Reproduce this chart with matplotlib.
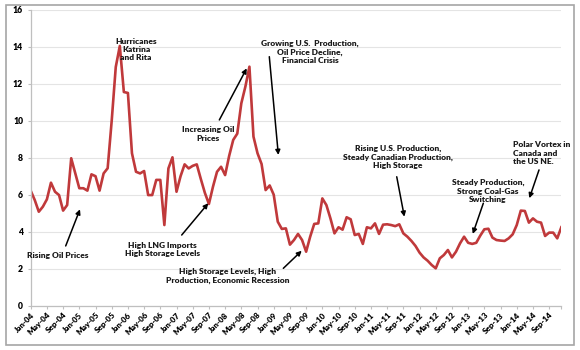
import numpy as np
import matplotlib
matplotlib.use('Agg')
import matplotlib.pyplot as plt
from matplotlib.patches import Rectangle

plt.rcParams['font.family'] = ['Lato', 'DejaVu Sans']

# monthly price, Jan-04 .. Dec-14
prices = [6.22, 5.71, 5.08, 5.35, 5.75, 6.65, 6.16, 5.98, 5.14, 5.44, 7.97, 7.15,
          6.35, 6.35, 6.22, 7.10, 7.00, 6.22, 7.15, 7.43, 10.0, 12.9, 14.04, 11.55,
          11.5, 8.24, 7.24, 7.15, 7.28, 5.98, 5.98, 6.80, 6.80, 4.36, 7.42, 8.02,
          6.16, 7.00, 7.64, 7.42, 7.56, 7.64, 6.85, 6.10, 5.50, 6.43, 7.24, 7.51,
          7.06, 8.10, 8.96, 9.30, 10.94, 11.84, 12.92, 9.14, 8.24, 7.66, 6.25, 6.50,
          6.00, 4.54, 4.15, 4.18, 3.30, 3.55, 3.88, 3.55, 2.92, 3.73, 4.42, 4.45,
          5.80, 5.44, 4.72, 3.91, 4.24, 4.11, 4.78, 4.67, 3.82, 3.88, 3.34, 4.24,
          4.18, 4.45, 3.88, 4.38, 4.40, 4.36, 4.30, 4.40, 3.91, 3.73, 3.50, 3.23,
          2.87, 2.61, 2.43, 2.20, 2.02, 2.56, 2.74, 3.01, 2.61, 2.92, 3.37, 3.73,
          3.40, 3.34, 3.40, 3.79, 4.13, 4.16, 3.68, 3.55, 3.52, 3.50, 3.64, 3.86,
          4.36, 5.14, 5.12, 4.49, 4.72, 4.54, 4.49, 3.77, 3.95, 3.95, 3.64, 4.24]

tick_labels = ['Jan-04', 'May-04', 'Sep-04', 'Jan-05', 'May-05', 'Sep-05',
               'Jan-06', 'May-06', 'Sep-06', 'Jan-07', 'May-07', 'Sep-07',
               'Jan-08', 'May-08', 'Sep-08', 'Jan-09', 'May-09', 'Sep-09',
               'Jan-10', 'May-10', 'Sep-10', 'Jan-11', 'May-11', 'Sep-11',
               'Jan-12', 'May-12', 'Sep-12', 'Jan-13', 'May-13', 'Sep-13',
               'Jan-14', 'May-14', 'Sep-14']

# (text, text pos, arrow tail, arrow head, align)
notes = [
    ('Hurricanes\nKatrina\nand Rita', (26.0, 13.86), None, None, 'center'),
    ('Rising Oil Prices', (6.7, 2.74), (8.64, 3.23), (12.17, 5.21), 'center'),
    ('High LNG Imports\nHigh Storage Levels', (32.5, 3.04), (37.28, 3.82), (43.85, 5.54), 'center'),
    ('High Storage Levels, High\nProduction, Economic Recession', (48.6, 1.63), (62.37, 2.02), (66.91, 2.97), 'center'),
    ('Increasing Oil\nPrices', (43.85, 9.28), (46.57, 10.04), (53.33, 12.83), 'center'),
    ('Growing U.S.  Production,\nOil Price Decline,\nFinancial Crisis', (68.96, 13.72), (58.91, 13.46), (61.14, 8.15), 'center'),
    ('Rising U.S. Production,\nSteady Canadian Production,\nHigh Storage', (90.7, 8.04), (90.37, 6.97), (92.25, 4.81), 'center'),
    ('Steady Production,\nStrong Coal-Gas\nSwitching', (112.9, 6.21), (111.75, 5.54), (109.14, 3.88), 'center'),
    ('Polar Vortex in\nCanada and\nthe US NE.', (119.16, 8.25), (125.5, 7.34), (123.11, 5.81), 'left'),
]

x = np.arange(len(prices))

fig = plt.figure(figsize=(5.8, 3.5), dpi=100)
ax = fig.add_axes([30.7 / 580, 44.3 / 350, 530.6 / 580, 296 / 350])

ax.plot(x, prices, color='#c0393b', lw=1.9, solid_joinstyle='round')

ax.set_xlim(0, len(prices) - 1)
ax.set_ylim(0, 16)
ax.set_yticks(range(0, 17, 2))
ax.set_xticks(x[::4])
ax.set_xticklabels(tick_labels, rotation=45, ha='right', rotation_mode='anchor',
                   fontsize=5.8, fontweight='heavy')
ax.set_xticks([len(prices) - 1], minor=True)
for lab in ax.get_yticklabels():
    lab.set_fontsize(6.2)
    lab.set_fontweight('heavy')

ax.yaxis.grid(True, color='#e4e4e4', lw=0.8)
ax.set_axisbelow(True)
for s in ['top', 'right']:
    ax.spines[s].set_visible(False)
for s in ['left', 'bottom']:
    ax.spines[s].set_color('#bfbfbf')
    ax.spines[s].set_linewidth(0.9)
ax.tick_params(axis='both', which='both', color='#bfbfbf', length=2.5, width=0.8)
ax.tick_params(axis='y', pad=3)
ax.tick_params(axis='x', pad=1.5)

for txt, pos, tail, head, align in notes:
    ax.text(pos[0], pos[1], txt, ha=align, va='center', fontsize=6.0,
            fontweight='heavy', linespacing=1.2, multialignment=align,
            color='#1a1a1a')
    if tail is not None:
        ax.annotate('', xy=head, xytext=tail,
                    arrowprops=dict(arrowstyle='-|>', color='black', lw=1.1,
                                    mutation_scale=7, shrinkA=0, shrinkB=0))

fig.patches.append(Rectangle((6 / 580, 5 / 350), 568 / 580, 340 / 350,
                             transform=fig.transFigure, fill=False,
                             edgecolor='#a6a6a6', lw=1.2))

fig.savefig('out.png', dpi=100, facecolor='white')
